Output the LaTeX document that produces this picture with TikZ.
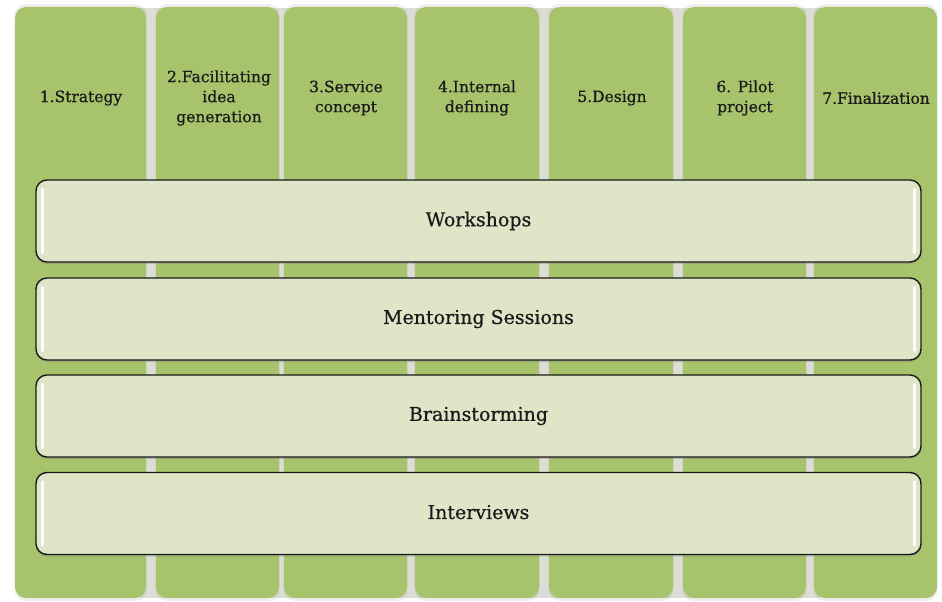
\documentclass[tikz,border=0pt]{standalone}
\usepackage{fontspec}
\setmainfont[FakeBold=0.6]{DejaVu Serif}
\usetikzlibrary{shadows}
\definecolor{colgreen}{HTML}{A7C36B}
\definecolor{bandfill}{HTML}{DFE6C7}
\definecolor{gapgray}{HTML}{DCDED5}
\definecolor{inkdark}{HTML}{1A1A1A}
\begin{document}
\begin{tikzpicture}[x=1pt,y=-1pt,
  phase/.style={draw=none, fill=colgreen, rounded corners=11pt, minimum height=591pt, inner sep=0pt,
    drop shadow={shadow xshift=0pt, shadow yshift=0pt, shadow scale=1.01, opacity=0.12}},
  phasetext/.style={align=center, font=\fontsize{15.5}{20}\selectfont, text=inkdark},
  activity/.style={draw=black!90, line width=1.4pt, fill=bandfill, rounded corners=11pt,
    minimum width=885pt, minimum height=82pt, inner sep=0pt,
    drop shadow={shadow xshift=0pt, shadow yshift=-2pt, opacity=0.35},
    font=\fontsize{19}{22}\selectfont, text=inkdark},
  gloss/.style={draw=white, line width=3pt, line cap=round}]
\useasboundingbox (0,0) rectangle (942,602);
\fill[white] (0,0) rectangle (942,602);

% grey channels between the phase columns
\fill[gapgray] (140,8) rectangle (820,598);

% phase columns
\node[phase, minimum width=131pt] (c1) at (80.5,302.5) {};
\node[phase, minimum width=123pt] (c2) at (217.5,302.5) {};
\node[phase, minimum width=123pt] (c3) at (345.5,302.5) {};
\node[phase, minimum width=124pt] (c4) at (477,302.5) {};
\node[phase, minimum width=124pt] (c5) at (611,302.5) {};
\node[phase, minimum width=123pt] (c6) at (744.5,302.5) {};
\node[phase, minimum width=123pt] (c7) at (875.5,302.5) {};

% phase titles
\node[phasetext] (t1) at (81,98) {1.Strategy};
\node[phasetext] (t2) at (219,98) {2.Facilitating\\idea\\generation};
\node[phasetext] (t3) at (346,98) {3.Service\\concept};
\node[phasetext] (t4) at (477,98) {4.Internal\\defining};
\node[phasetext] (t5) at (612,98) {5.Design};
\node[phasetext] (t6) at (745,98) {6. Pilot\\project};
\node[phasetext] (t7) at (876,98) {7.Finalization};

% activities running across all phases
\node[activity] (a1) at (478.5,221) {\raisebox{3pt}{Workshops}};
\node[activity] (a2) at (478.5,319) {\raisebox{3pt}{Mentoring Sessions}};
\node[activity] (a3) at (478.5,416) {\raisebox{3pt}{Brainstorming}};
\node[activity] (a4) at (478.5,513.5) {\raisebox{3pt}{Interviews}};

% glossy highlights on the band ends
\foreach \b in {a1,a2,a3,a4}{
  \draw[gloss] ([xshift=7pt,yshift=-10pt]\b.north west) -- ([xshift=7pt,yshift=10pt]\b.south west);
  \draw[gloss] ([xshift=-7pt,yshift=-10pt]\b.north east) -- ([xshift=-7pt,yshift=10pt]\b.south east);
}
\end{tikzpicture}
\end{document}
